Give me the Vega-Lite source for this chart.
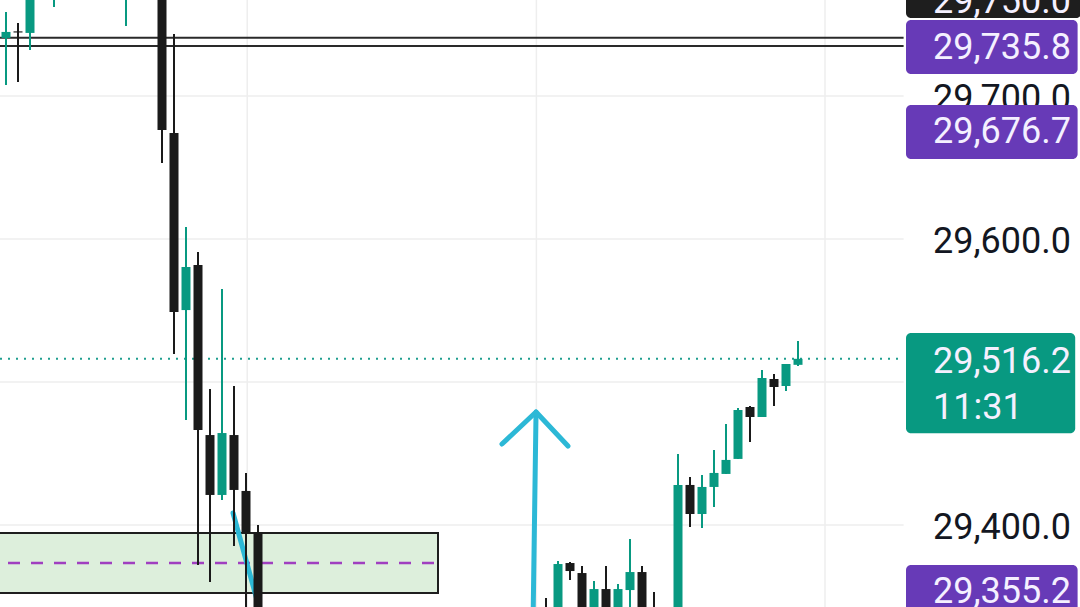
{
  "$schema": "https://vega.github.io/schema/vega-lite/v6.json",
  "width": 1080,
  "height": 607,
  "autosize": {"type": "none"},
  "padding": 0,
  "background": "#ffffff",
  "config": {"view": {"stroke": null}},
  "datasets": {
    "candles": [
      {"t": 0, "o": 29740.6, "h": 29758.7, "l": 29707.7, "c": 29744.8, "cat": "up"},
      {"t": 1, "o": 29745.2, "h": 29751.0, "l": 29709.8, "c": 29744.4, "cat": "down"},
      {"t": 2, "o": 29744.1, "h": 29800.0, "l": 29732.2, "c": 29790.0, "cat": "up"},
      {"t": 4, "o": 29775.0, "h": 29800.0, "l": 29762.2, "c": 29795.0, "cat": "up"},
      {"t": 10, "o": 29772.0, "h": 29800.0, "l": 29749.0, "c": 29790.0, "cat": "up"},
      {"t": 13, "o": 29820.0, "h": 29830.0, "l": 29653.1, "c": 29676.2, "cat": "down"},
      {"t": 14, "o": 29674.1, "h": 29743.4, "l": 29519.6, "c": 29549.0, "cat": "down"},
      {"t": 15, "o": 29550.3, "h": 29608.4, "l": 29473.4, "c": 29580.4, "cat": "up"},
      {"t": 16, "o": 29581.8, "h": 29590.9, "l": 29372.0, "c": 29466.4, "cat": "down"},
      {"t": 17, "o": 29462.9, "h": 29495.1, "l": 29360.1, "c": 29421.0, "cat": "down"},
      {"t": 18, "o": 29421.0, "h": 29565.0, "l": 29417.5, "c": 29464.3, "cat": "up"},
      {"t": 19, "o": 29462.9, "h": 29497.2, "l": 29385.3, "c": 29424.5, "cat": "down"},
      {"t": 20, "o": 29423.8, "h": 29436.4, "l": 29300.0, "c": 29394.4, "cat": "down"},
      {"t": 21, "o": 29395.1, "h": 29400.0, "l": 29280.0, "c": 29300.0, "cat": "down"},
      {"t": 45, "o": 29338.0, "h": 29348.9, "l": 29300.0, "c": 29310.0, "cat": "down"},
      {"t": 46, "o": 29320.0, "h": 29374.8, "l": 29300.0, "c": 29372.7, "cat": "up"},
      {"t": 47, "o": 29373.4, "h": 29374.1, "l": 29361.5, "c": 29367.8, "cat": "down"},
      {"t": 48, "o": 29366.4, "h": 29371.3, "l": 29300.0, "c": 29320.0, "cat": "down"},
      {"t": 49, "o": 29320.0, "h": 29360.8, "l": 29300.0, "c": 29355.2, "cat": "up"},
      {"t": 50, "o": 29355.2, "h": 29371.3, "l": 29300.0, "c": 29320.0, "cat": "down"},
      {"t": 51, "o": 29320.0, "h": 29358.7, "l": 29300.0, "c": 29355.2, "cat": "up"},
      {"t": 52, "o": 29354.5, "h": 29390.2, "l": 29320.0, "c": 29367.1, "cat": "up"},
      {"t": 53, "o": 29367.1, "h": 29371.3, "l": 29300.0, "c": 29320.0, "cat": "down"},
      {"t": 54, "o": 29338.0, "h": 29353.1, "l": 29300.0, "c": 29320.0, "cat": "down"},
      {"t": 56, "o": 29320.0, "h": 29449.7, "l": 29300.0, "c": 29428.0, "cat": "up"},
      {"t": 57, "o": 29428.0, "h": 29433.6, "l": 29398.6, "c": 29407.7, "cat": "down"},
      {"t": 58, "o": 29407.7, "h": 29435.0, "l": 29397.9, "c": 29426.6, "cat": "up"},
      {"t": 59, "o": 29426.6, "h": 29452.4, "l": 29412.6, "c": 29436.4, "cat": "up"},
      {"t": 60, "o": 29435.7, "h": 29470.6, "l": 29435.7, "c": 29445.5, "cat": "up"},
      {"t": 61, "o": 29446.2, "h": 29481.8, "l": 29446.2, "c": 29480.4, "cat": "up"},
      {"t": 62, "o": 29482.5, "h": 29483.2, "l": 29458.0, "c": 29475.5, "cat": "down"},
      {"t": 63, "o": 29475.5, "h": 29508.4, "l": 29475.5, "c": 29502.8, "cat": "up"},
      {"t": 64, "o": 29502.1, "h": 29505.6, "l": 29483.2, "c": 29496.5, "cat": "down"},
      {"t": 65, "o": 29497.2, "h": 29512.6, "l": 29493.7, "c": 29512.6, "cat": "up"},
      {"t": 66, "o": 29512.0, "h": 29528.7, "l": 29511.2, "c": 29516.2, "cat": "up"}
    ],
    "vgrid": [{"t": 20.1}, {"t": 44.2}, {"t": 68.25}],
    "hgrid": [{"v": 29400}, {"v": 29500}, {"v": 29600}, {"v": 29700}],
    "hlines": [{"v": 29740.8}, {"v": 29735.0}],
    "cyan": [
      {"seg": "shaft", "o": 1, "t": 43.9, "v": 29320.0},
      {"seg": "shaft", "o": 2, "t": 44.17, "v": 29479.0},
      {"seg": "head", "o": 1, "t": 41.33, "v": 29456.6},
      {"seg": "head", "o": 2, "t": 44.17, "v": 29479.0},
      {"seg": "head", "o": 3, "t": 46.83, "v": 29455.2},
      {"seg": "slash", "o": 1, "t": 18.92, "v": 29408.4},
      {"seg": "slash", "o": 2, "t": 21.0, "v": 29345.0}
    ],
    "boxes": [
      {"t0": 75, "t1": 89.6, "v0": 29754.5, "v1": 29800.0, "cat": "dark"},
      {"t0": 75, "t1": 89.3, "v0": 29715.4, "v1": 29753.2, "cat": "alert"},
      {"t0": 75, "t1": 89.3, "v0": 29655.9, "v1": 29693.7, "cat": "alert"},
      {"t0": 75, "t1": 89.1, "v0": 29464.2, "v1": 29534.2, "cat": "last"},
      {"t0": 75, "t1": 89.3, "v0": 29320.0, "v1": 29372.0, "cat": "alert"}
    ],
    "ticks": [
      {"t": 77.25, "v": 29700, "label": "29,700.0"},
      {"t": 77.25, "v": 29600, "label": "29,600.0"},
      {"t": 77.25, "v": 29400, "label": "29,400.0"}
    ],
    "boxlabels": [
      {"t": 77.25, "v": 29767.5, "label": "29,750.0"},
      {"t": 77.25, "v": 29735.8, "label": "29,735.8"},
      {"t": 77.25, "v": 29676.7, "label": "29,676.7"},
      {"t": 77.25, "v": 29516.2, "label": "29,516.2"},
      {"t": 77.25, "v": 29483.9, "label": "11:31"},
      {"t": 77.25, "v": 29355.2, "label": "29,355.2"}
    ]
  },
  "layer": [
    {
      "data": {"name": "vgrid"},
      "mark": {"type": "rule", "color": "#eeeeee", "strokeWidth": 1.5},
      "encoding": {
        "x": {"field": "t", "type": "quantitative", "scale": {"domain": [-0.5, 89.5], "nice": false, "zero": false, "padding": 0}, "axis": null}
      }
    },
    {
      "data": {"name": "hgrid"},
      "mark": {"type": "rule", "color": "#eeeeee", "strokeWidth": 1.5},
      "encoding": {
        "x": {"datum": -0.5, "type": "quantitative"},
        "x2": {"datum": 74.8},
        "y": {"field": "v", "type": "quantitative", "scale": {"domain": [29342.65, 29767.13], "nice": false, "zero": false, "padding": 0}, "axis": null}
      }
    },
    {
      "data": {"values": [{"v0": 29352.4, "v1": 29394.4}]},
      "mark": {"type": "rect", "fill": "#ddefdc", "stroke": "#1e1e1e", "strokeWidth": 2},
      "encoding": {
        "x": {"datum": -1.5, "type": "quantitative"},
        "x2": {"datum": 36},
        "y": {"field": "v0", "type": "quantitative"},
        "y2": {"field": "v1"}
      }
    },
    {
      "data": {"values": [{"v": 29373.4}]},
      "mark": {"type": "rule", "color": "#a03fc0", "strokeWidth": 2.5, "strokeDash": [12, 11], "strokeDashOffset": -8},
      "encoding": {
        "x": {"datum": -0.5, "type": "quantitative"},
        "x2": {"datum": 35.8},
        "y": {"field": "v", "type": "quantitative"}
      }
    },
    {
      "data": {"values": [{"v": 29516.2}]},
      "mark": {"type": "rule", "color": "#1f9e8f", "strokeWidth": 2, "strokeDash": [2, 6]},
      "encoding": {
        "x": {"datum": -0.5, "type": "quantitative"},
        "x2": {"datum": 74.8},
        "y": {"field": "v", "type": "quantitative"}
      }
    },
    {
      "data": {"name": "hlines"},
      "mark": {"type": "rule", "color": "#2a2a2a", "strokeWidth": 2},
      "encoding": {
        "x": {"datum": -0.5, "type": "quantitative"},
        "x2": {"datum": 74.8},
        "y": {"field": "v", "type": "quantitative"}
      }
    },
    {
      "data": {"name": "cyan"},
      "mark": {"type": "line", "color": "#2cb8d6", "strokeWidth": 5, "strokeCap": "round", "strokeJoin": "round", "clip": true},
      "encoding": {
        "x": {"field": "t", "type": "quantitative"},
        "y": {"field": "v", "type": "quantitative"},
        "detail": {"field": "seg"},
        "order": {"field": "o", "type": "quantitative"}
      }
    },
    {
      "data": {"name": "candles"},
      "mark": {"type": "rule", "strokeWidth": 2, "clip": true},
      "encoding": {
        "x": {"field": "t", "type": "quantitative"},
        "y": {"field": "l", "type": "quantitative"},
        "y2": {"field": "h"},
        "color": {"field": "cat", "type": "nominal", "scale": {"domain": ["up", "down", "dark", "alert", "last"], "range": ["#089981", "#1a1a1a", "#1e1e1e", "#673ab7", "#089981"]}, "legend": null}
      }
    },
    {
      "data": {"name": "candles"},
      "mark": {"type": "bar", "size": 9, "clip": true},
      "encoding": {
        "x": {"field": "t", "type": "quantitative"},
        "y": {"field": "o", "type": "quantitative"},
        "y2": {"field": "c"},
        "color": {"field": "cat", "type": "nominal", "legend": null}
      }
    },
    {
      "data": {"name": "ticks"},
      "mark": {"type": "text", "align": "left", "baseline": "middle", "dy": 3, "font": "Roboto", "fontSize": 36, "color": "#131722"},
      "encoding": {
        "x": {"field": "t", "type": "quantitative"},
        "y": {"field": "v", "type": "quantitative"},
        "text": {"field": "label"}
      }
    },
    {
      "data": {"name": "boxes"},
      "mark": {"type": "rect", "cornerRadius": 5},
      "encoding": {
        "x": {"field": "t0", "type": "quantitative"},
        "x2": {"field": "t1"},
        "y": {"field": "v0", "type": "quantitative"},
        "y2": {"field": "v1"},
        "color": {"field": "cat", "type": "nominal", "legend": null}
      }
    },
    {
      "data": {"name": "boxlabels"},
      "mark": {"type": "text", "align": "left", "baseline": "middle", "dy": 3, "font": "Roboto", "fontSize": 36, "color": "#f4f0ff"},
      "encoding": {
        "x": {"field": "t", "type": "quantitative"},
        "y": {"field": "v", "type": "quantitative"},
        "text": {"field": "label"}
      }
    }
  ]
}
